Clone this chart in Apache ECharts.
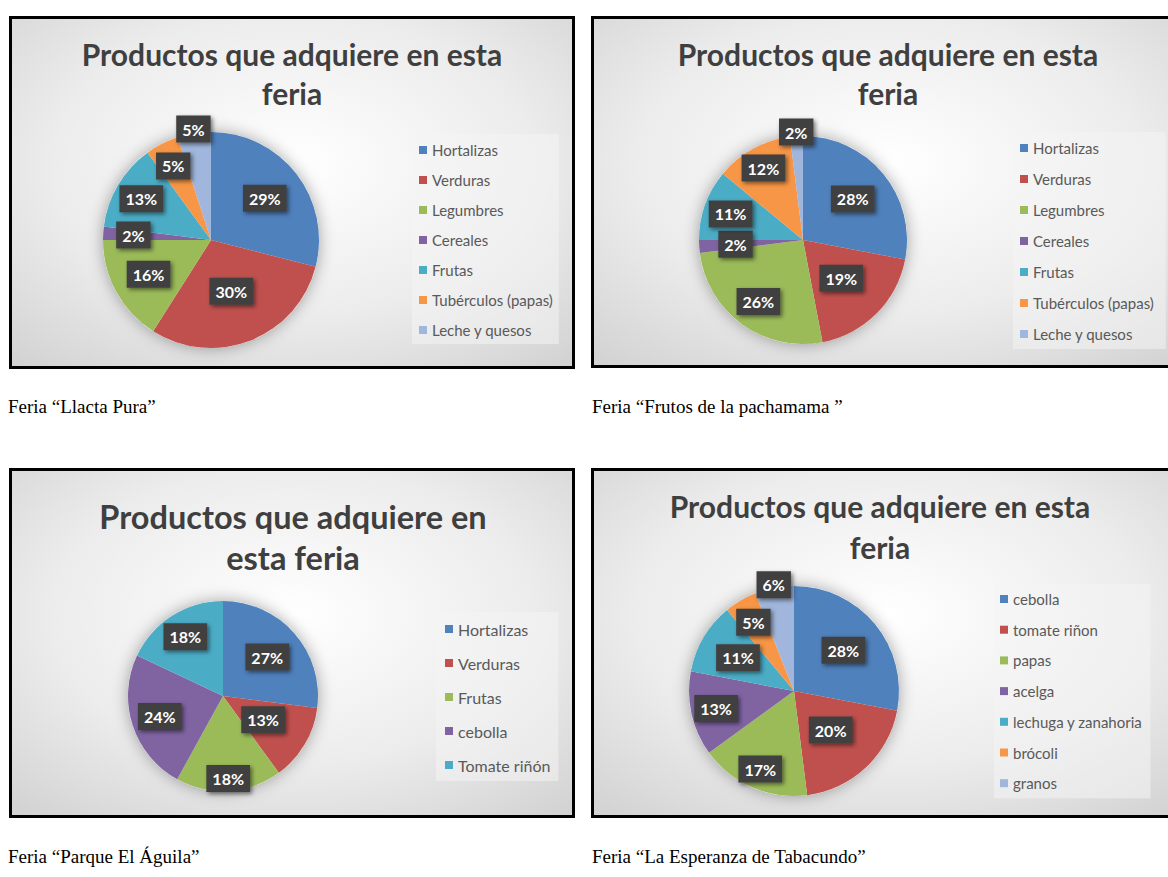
<!DOCTYPE html>
<html>
<head>
<meta charset="utf-8">
<script src="https://cdn.jsdelivr.net/npm/echarts@6/dist/echarts.min.js"></script>
<style>
  html, body { margin: 0; padding: 0; background: #fff; }
  #main { width: 1168px; height: 877px; }
</style>
</head>
<body>
<div id="main"></div>
<script>
// ---- data ----
const titleTwoLines = 'Productos que adquiere en esta\nferia';
const titleAguila = 'Productos que adquiere en\nesta feria';

const llactaNames = ['Hortalizas', 'Verduras', 'Legumbres', 'Cereales', 'Frutas', 'Tubérculos (papas)', 'Leche y quesos'];
const llactaValues = [29, 30, 16, 2, 13, 5, 5];

const frutosNames = ['Hortalizas', 'Verduras', 'Legumbres', 'Cereales', 'Frutas', 'Tubérculos (papas)', 'Leche y quesos'];
const frutosValues = [28, 19, 26, 2, 11, 12, 2];

const aguilaNames = ['Hortalizas', 'Verduras', 'Frutas', 'cebolla', 'Tomate riñón'];
const aguilaValues = [27, 13, 18, 24, 18];

const tabacundoNames = ['cebolla', 'tomate riñon', 'papas', 'acelga', 'lechuga y zanahoria', 'brócoli', 'granos'];
const tabacundoValues = [28, 20, 17, 13, 11, 5, 6];

const captions = ['Feria “Llacta Pura”', 'Feria “Frutos de la pachamama ”', 'Feria “Parque El Águila”', 'Feria “La Esperanza de Tabacundo”'];

// ---- styles ----
const palette7 = ['#4f81bd', '#c0504d', '#9bbb59', '#8064a2', '#4bacc6', '#f79646', '#a0b6dc'];
const palette5 = ['#4f81bd', '#c0504d', '#9bbb59', '#8064a2', '#4bacc6'];
const FONT = 'Lato';

// label distance from centre, as part of the radius (excel "best fit")
const labelDist = [
  [0.63, 0.51, 0.66, 0.72, 0.75, 0.77, 1.04],
  [0.62, 0.52, 0.73, 0.65, 0.74, 0.79, 1.04],
  [0.62, 0.49, 0.87, 0.70, 0.74],
  [0.61, 0.51, 0.81, 0.76, 0.62, 0.76, 1.03]
];

const panels = [
  {
    names: llactaNames, values: llactaValues, colors: palette7, title: titleTwoLines, caption: captions[0],
    box: [9, 16, 566, 353], titleX: 292, titleY: 34, titleSize: 30, titleLh: 39,
    cx: 211, cy: 240, r: 108,
    legend: { left: 412, top: 134, padding: [8, 6, 6, 7], gap: 14, size: 15 },
    capX: 8, capY: 406
  },
  {
    names: frutosNames, values: frutosValues, colors: palette7, title: titleTwoLines, caption: captions[1],
    box: [591, 16, 594, 352], titleX: 888, titleY: 34, titleSize: 30, titleLh: 39,
    cx: 803, cy: 240, r: 104,
    legend: { left: 1013, top: 132, padding: [8, 12, 7, 7], gap: 15, size: 15 },
    capX: 592, capY: 406
  },
  {
    names: aguilaNames, values: aguilaValues, colors: palette5, title: titleAguila, caption: captions[2],
    box: [9, 468, 566, 350], titleX: 293, titleY: 496, titleSize: 32.5, titleLh: 41,
    cx: 223, cy: 696, r: 95,
    legend: { left: 436, top: 612, padding: [9, 8, 8, 9], gap: 18, size: 16 },
    capX: 8, capY: 856
  },
  {
    names: tabacundoNames, values: tabacundoValues, colors: palette7, title: titleTwoLines, caption: captions[3],
    box: [591, 468, 594, 350], titleX: 880, titleY: 485, titleSize: 30, titleLh: 41,
    cx: 794, cy: 691, r: 105,
    legend: { left: 994, top: 584, padding: [7, 8, 7, 6], gap: 14.7, size: 15 },
    capX: 592, capY: 856
  }
];

const chart = echarts.init(document.getElementById('main'), null, { renderer: 'svg' });

const titles = [];
const legends = [];
const series = [];
const graphics = [];

panels.forEach((p, k) => {
  const [bx, by, bw, bh] = p.box;
  graphics.push({
    type: 'rect', z: -10, silent: true,
    shape: { x: bx, y: by, width: bw, height: bh },
    style: {
      fill: new echarts.graphic.RadialGradient(0.5, 0.42, 0.95, [
        { offset: 0, color: '#ffffff' },
        { offset: 0.45, color: '#ececec' },
        { offset: 1, color: '#c2c2c2' }
      ])
    }
  });
  graphics.push({
    type: 'rect', z: 100, silent: true,
    shape: { x: bx + 1.5, y: by + 1.5, width: bw - 3, height: bh - 3 },
    style: { fill: null, stroke: '#000', lineWidth: 3 }
  });
  graphics.push({
    type: 'text', z: 100, silent: true,
    x: p.capX, y: p.capY,
    style: {
      text: p.caption, fill: '#000', fontFamily: 'Liberation Serif', fontSize: 19,
      verticalAlign: 'middle', align: 'left'
    }
  });

  titles.push({
    text: p.title, left: p.titleX, top: p.titleY, textAlign: 'center', padding: 0,
    textStyle: {
      fontFamily: FONT, fontWeight: 'bold', fontSize: p.titleSize, lineHeight: p.titleLh, color: '#3f3f3f'
    }
  });

  legends.push({
    orient: 'vertical', left: p.legend.left, top: p.legend.top, padding: p.legend.padding,
    itemGap: p.legend.gap, itemWidth: 8, itemHeight: 8, icon: 'rect', selectedMode: false,
    backgroundColor: 'rgba(244,244,244,0.55)',
    textStyle: { fontFamily: FONT, fontSize: p.legend.size, lineHeight: 16, color: '#595959' },
    data: p.names.map((n, i) => ({ name: n, itemStyle: { color: p.colors[i] } }))
  });

  // soft shadow behind the pie
  series.push({
    type: 'pie', silent: true, z: 1,
    center: [p.cx, p.cy], radius: p.r,
    label: { show: false }, labelLine: { show: false },
    itemStyle: { color: '#f4f4f4', shadowBlur: 16, shadowColor: 'rgba(0,0,0,0.35)' },
    data: [{ value: 1, name: '' }]
  });

  series.push({
    type: 'pie', z: 2,
    center: [p.cx, p.cy], radius: p.r, startAngle: 90, clockwise: true,
    avoidLabelOverlap: false,
    itemStyle: { borderWidth: 0 },
    label: {
      show: true, position: 'inside', formatter: '{c}%',
      fontFamily: FONT, fontWeight: 'bold', fontSize: 16, color: '#fff',
      backgroundColor: '#404040', padding: [6, 6, 5, 6],
      shadowBlur: 4, shadowColor: 'rgba(0,0,0,0.5)', shadowOffsetX: 2, shadowOffsetY: 2
    },
    labelLine: { show: false },
    labelLayout: (params) => {
      const lr = params.labelRect;
      const x0 = lr.x + lr.width / 2 - p.cx;
      const y0 = lr.y + lr.height / 2 - p.cy;
      const d = Math.sqrt(x0 * x0 + y0 * y0) || 1;
      const f = labelDist[k][params.dataIndex] * p.r;
      return { x: p.cx + x0 / d * f, y: p.cy + y0 / d * f, align: 'center', verticalAlign: 'middle' };
    },
    data: p.values.map((v, i) => ({ value: v, name: p.names[i], itemStyle: { color: p.colors[i] } }))
  });
});

chart.setOption({
  animation: false,
  title: titles,
  legend: legends,
  series: series,
  graphic: { elements: graphics }
});
</script>
</body>
</html>
